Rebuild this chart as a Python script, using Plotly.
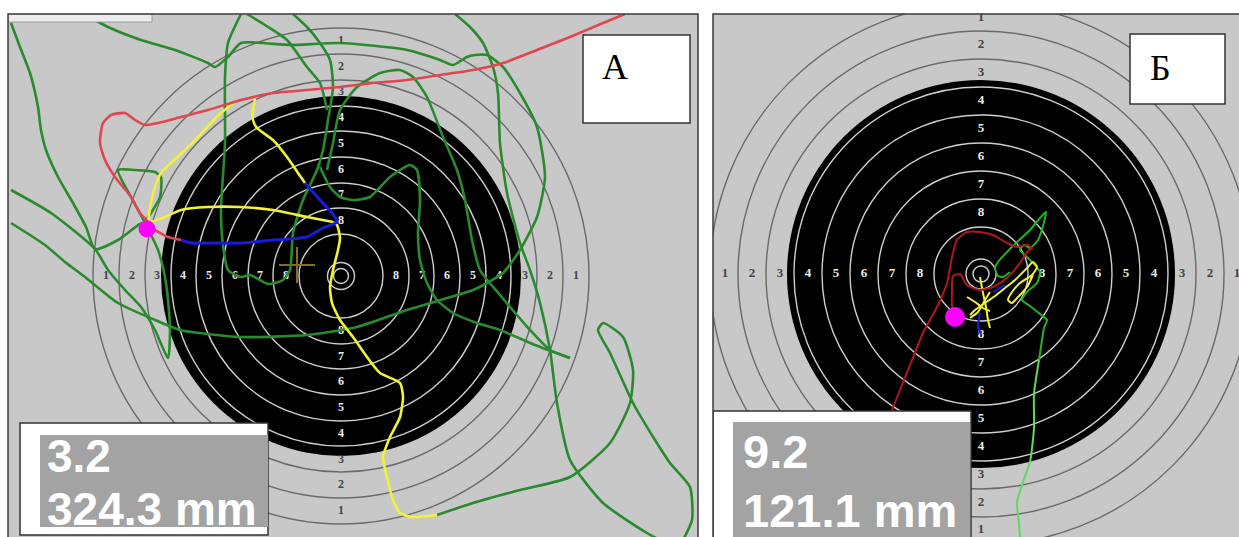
import plotly.graph_objects as go

# ---------------------------------------------------------------
# Target geometry (units: offset from target centre, y pointing up)
# ---------------------------------------------------------------
A_RING_R = [7.5, 13.5, 42, 68, 93, 119, 145, 170, 196, 222, 248]
A_BLACK_R = 180
A_LABEL_R = [235, 209, 184, 158, 132, 106, 81, 55]      # rings 1..8

B_RING_R = [8, 15, 47, 75, 103, 131, 159, 187, 215, 243, 271]
B_BLACK_R = 194
B_LABEL_R = [256, 229, 201, 173, 145, 117, 89, 61]      # rings 1..8

RING_NUMBERS = ["1", "2", "3", "4", "5", "6", "7", "8"]

# ---------------------------------------------------------------
# Aiming trace, panel A
# ---------------------------------------------------------------
A_GREEN = [
    [(-330, 253), (-321, 229), (-311, 203), (-303, 169), (-300, 146), (-295, 126),
     (-283, 99), (-268, 73), (-255, 49), (-246, 27), (-223, 36), (-201, 52), (-193, 54)],
    [(-330, 86), (-290, 63), (-246, 27), (-233, 6), (-216, -14), (-200, -31), (-186, -54),
     (-173, -82), (-171, -54), (-173, -24), (-176, -1), (-183, 26), (-196, 53), (-210, 79),
     (-223, 106), (-206, 106), (-186, 104), (-180, 99), (-181, 79), (-190, 63), (-196, 54)],
    [(-330, 53), (-296, 31), (-276, 14), (-256, -1), (-223, -27), (-186, -44), (-161, -54),
     (-100, -61), (-34, -59), (16, -51), (66, -34), (132, -14), (146, -7), (162, 3),
     (179, 26), (196, 59), (204, 99), (196, 149), (179, 183), (162, 209), (146, 221),
     (134, 221), (126, 219), (112, 211), (99, 216), (66, 226), (-1, 233), (-51, 231),
     (-100, 233), (-113, 219), (-126, 209), (-133, 213), (-166, 226), (-200, 236),
     (-233, 249), (-246, 256)],
    [(114, 262), (129, 249), (142, 233), (152, 209), (157, 183), (159, 133), (166, 83),
     (179, 33), (189, 6), (199, -27), (209, -74), (216, -127), (229, -184), (262, -227),
     (306, -257), (319, -264)],
    [(-100, 262), (-113, 233), (-116, 199), (-116, 133), (-120, 66), (-118, 31), (-113, 6),
     (-100, -1), (-91, 1), (-73, -8), (-58, -4), (-51, 6), (-48, 43), (-38, 76), (-24, 106),
     (-18, 126), (-13, 156), (-8, 189), (-11, 216), (-21, 233), (-34, 249), (-48, 262)],
    [(-94, 262), (-76, 251), (-54, 236), (-34, 209), (-21, 193), (-14, 166)],
    [(-21, 109), (-11, 89), (-1, 79), (12, 76), (29, 79), (49, 99), (69, 111), (76, 106),
     (79, 76), (77, 43), (79, 16), (86, -7), (96, -24), (112, -37), (136, -47), (159, -54),
     (194, -69), (229, -82)],
    [(-14, 106), (-8, 133), (-1, 166), (16, 189), (39, 203), (59, 206), (72, 199), (86, 179),
     (102, 139), (116, 106), (124, 76), (131, 36), (139, 6), (159, -19), (189, -54),
     (209, -74), (229, -82)],
    [(96, -239), (132, -227), (179, -214), (229, -201), (269, -167), (289, -127), (292, -94),
     (282, -61), (262, -47), (257, -54), (269, -77), (292, -127), (314, -164), (329, -187),
     (349, -211), (351, -244), (342, -264)],
]

A_YELLOW = [
    [(96, -239), (72, -241), (59, -237), (52, -224), (46, -201), (42, -181), (49, -161),
     (59, -141), (62, -121), (59, -107), (39, -97), (26, -81), (12, -61), (-1, -44),
     (-9, -27), (-11, -11), (-8, 6), (-3, 26), (-1, 38), (-4, 51), (-8, 54)],
    [(-8, 54), (-34, 59), (-68, 66), (-101, 69), (-133, 69), (-160, 66), (-176, 59), (-190, 54)],
    [(-193, 54), (-190, 73), (-186, 89), (-180, 103), (-170, 113), (-156, 126), (-143, 139),
     (-130, 153), (-120, 163), (-110, 171), (-105, 175)],
    [(-86, 177), (-88, 166), (-88, 156), (-84, 148), (-68, 136), (-54, 119), (-43, 103), (-36, 93)],
]

A_BLUE = [
    [(-36, 93), (-21, 76), (-9, 63), (-4, 54), (-18, 48), (-34, 39), (-68, 36), (-100, 33),
     (-133, 33), (-150, 33), (-160, 36)],
]

A_RED = [
    [(-160, 36), (-173, 39), (-186, 46), (-193, 50)],
    [(-193, 54), (-201, 63), (-210, 79), (-226, 99), (-236, 116), (-241, 133), (-238, 153),
     (-230, 161), (-216, 163), (-206, 156), (-196, 151), (-183, 153), (-160, 159), (-133, 166),
     (-100, 176), (-68, 183), (-34, 186), (-1, 189), (32, 193), (66, 196), (99, 201),
     (132, 206), (162, 213), (196, 226), (229, 239), (262, 253), (284, 262)],
]

A_SHOT = (-194, 47)
A_AIM_MARK = (-44, 11)

# ---------------------------------------------------------------
# Aiming trace, panel Б
# ---------------------------------------------------------------
B_GREEN = [
    [(58, -86), (61, -66), (63, -54), (66, -46), (59, -40), (49, -32), (41, -26), (46, -18),
     (56, -9), (59, 2), (54, 9), (46, 17), (39, 24), (43, 29), (49, 26), (57, 34), (62, 48),
     (65, 62), (59, 56), (49, 44), (36, 32), (26, 22), (17, 12), (14, 6), (17, -2), (22, -3),
     (29, 2)],
]
B_GREEN_LIGHT = [
    [(39, -263), (38, -250), (36, -229), (43, -205), (49, -188), (53, -154), (53, -120),
     (58, -86)],
]

B_YELLOW = [
    [(-11, -41), (-6, -36), (4, -29), (14, -22), (24, -14), (34, -6), (46, 6), (52, 12),
     (56, 7), (51, -1), (39, -9), (31, -18), (27, -26), (31, -29), (37, -23), (46, -13), (52, -1)],
    [(-14, -23), (-6, -28), (2, -34), (9, -37)],
    [(-1, -3), (2, -19), (5, -33), (7, -46), (9, -54)],
    [(-11, -44), (-3, -38), (4, -26), (9, -18)],
]

B_BLUE = [
    [(-1, -39), (-3, -53), (0, -60)],
    [(12, -18), (24, -11)],
]

B_RED = [
    [(-26, -43), (-29, -31), (-29, -16), (-28, -2), (-21, 0), (-14, -11), (-1, -16), (14, -12),
     (27, -3), (39, 11), (47, 23), (51, 26), (46, 29), (36, 27), (26, 31), (12, 39), (-1, 42),
     (-14, 42), (-24, 34), (-29, 17), (-34, -9), (-44, -33), (-58, -59), (-69, -86),
     (-81, -116), (-91, -141)],
]

B_SHOT = (-26, -43)

# Result read-outs
A_RESULT = ["3.2", "324.3 mm"]
B_RESULT = ["9.2", "121.1 mm"]
PANEL_TITLES = ["А", "Б"]

# ---------------------------------------------------------------
GRAY_BG = "#c8c8c8"
GREEN_A = "#2a8a2e"
GREEN_B = "#1fb51f"
GREEN_B_LIGHT = "#5fd85f"
YELLOW = "#f2f238"
BLUE = "#1a1adc"
RED_A = "#e2454f"
RED_B = "#b0161e"
MAGENTA = "#ff00ff"

fig = go.Figure()


def add_paths(paths, color, width, xa, ya):
    for p in paths:
        fig.add_trace(go.Scatter(
            x=[q[0] for q in p], y=[q[1] for q in p], mode="lines",
            line=dict(color=color, width=width, shape="spline", smoothing=0.6),
            xaxis=xa, yaxis=ya, hoverinfo="skip"))


def add_target(ring_r, black_r, label_r, xref, yref, xa, ya, font_size):
    fig.add_shape(type="circle", xref=xref, yref=yref, x0=-black_r, x1=black_r,
                  y0=-black_r, y1=black_r, fillcolor="black", line=dict(width=0),
                  layer="below")
    for r in ring_r:
        inside = r < black_r
        fig.add_shape(type="circle", xref=xref, yref=yref, x0=-r, x1=r, y0=-r, y1=r,
                      line=dict(color="#cfcfcf" if inside else "#6a6a6a", width=1.4),
                      layer="below")
    # ring numbers: light ones on the black disc, dark ones on the gray field
    groups = {"#ededed": ([], [], []), "#444444": ([], [], [])}
    for num, r in zip(RING_NUMBERS, label_r):
        col = "#ededed" if r < black_r - 8 else "#444444"
        xs, ys, txt = groups[col]
        for dx, dy in [(-1, 0), (1, 0), (0, 1), (0, -1)]:
            xs.append(dx * r)
            ys.append(dy * r)
            txt.append(num)
    for col, (xs, ys, txt) in groups.items():
        fig.add_trace(go.Scatter(
            x=xs, y=ys, text=txt, mode="text", xaxis=xa, yaxis=ya, hoverinfo="skip",
            textfont=dict(family="Liberation Serif", size=font_size, color=col,
                          weight="bold")))


# --- panel A ---
add_target(A_RING_R, A_BLACK_R, A_LABEL_R, "x", "y", "x", "y", 12)
# aiming mark
cx, cy = A_AIM_MARK
fig.add_trace(go.Scatter(x=[cx - 18, cx + 18, None, cx, cx], y=[cy, cy, None, cy - 18, cy + 18],
                         mode="lines", line=dict(color="#8a6a2a", width=2),
                         xaxis="x", yaxis="y", hoverinfo="skip"))
add_paths(A_GREEN, GREEN_A, 2.6, "x", "y")
add_paths(A_YELLOW, YELLOW, 2.6, "x", "y")
add_paths(A_BLUE, BLUE, 3, "x", "y")
add_paths(A_RED, RED_A, 2.6, "x", "y")
fig.add_trace(go.Scatter(x=[A_SHOT[0]], y=[A_SHOT[1]], mode="markers",
                         marker=dict(color=MAGENTA, size=17, line=dict(width=0)),
                         xaxis="x", yaxis="y", hoverinfo="skip"))

# --- panel Б ---
add_target(B_RING_R, B_BLACK_R, B_LABEL_R, "x2", "y2", "x2", "y2", 13)
add_paths(B_GREEN, GREEN_B, 2, "x2", "y2")
add_paths(B_GREEN_LIGHT, GREEN_B_LIGHT, 2, "x2", "y2")
add_paths(B_YELLOW, YELLOW, 2, "x2", "y2")
add_paths(B_BLUE, BLUE, 2, "x2", "y2")
add_paths(B_RED, RED_B, 2, "x2", "y2")
fig.add_trace(go.Scatter(x=[B_SHOT[0]], y=[B_SHOT[1]], mode="markers",
                         marker=dict(color=MAGENTA, size=20, line=dict(width=0)),
                         xaxis="x2", yaxis="y2", hoverinfo="skip"))


# --- read-out boxes and panel titles ---
def box(xref, yref, x0, x1, y0, y1, fill, line_col=None, lw=0):
    fig.add_shape(type="rect", xref=xref, yref=yref, x0=x0, x1=x1, y0=y0, y1=y1,
                  fillcolor=fill, line=dict(color=line_col or fill, width=lw), layer="above")


def text(xref, yref, x, y, s, size, color, family, anchor="left", weight="normal"):
    fig.add_annotation(xref=xref, yref=yref, x=x, y=y, text=s, showarrow=False,
                       xanchor=anchor, yanchor="middle",
                       font=dict(family=family, size=size, color=color, weight=weight))


# panel A
box("x", "y", -333, -189, 254, 262, "#ececec", "#9a9a9a", 1)
box("x", "y", -321, -73, -259, -147, "white", "#333333", 1.5)
box("x", "y", -301, -73, -251, -159, "#a3a3a3")
text("x", "y", -296, -180, A_RESULT[0], 46, "white", "Liberation Sans", weight="bold")
text("x", "y", -296, -233, A_RESULT[1], 46, "white", "Liberation Sans", weight="bold")
box("x", "y", 242, 349, 153, 241, "white", "#333333", 1.5)
text("x", "y", 274, 209, PANEL_TITLES[0], 36, "black", "Liberation Serif", "center")

# panel Б
box("x2", "y2", -268, -10, -264, -137, "white", "#333333", 1.5)
box("x2", "y2", -248, -11, -264, -148, "#a3a3a3")
text("x2", "y2", -240, -177, B_RESULT[0], 47, "white", "Liberation Sans", weight="bold")
text("x2", "y2", -240, -236, B_RESULT[1], 47, "white", "Liberation Sans", weight="bold")
box("x2", "y2", 149, 244, 170, 240, "white", "#333333", 1.5)
text("x2", "y2", 179, 206, PANEL_TITLES[1], 36, "black", "Liberation Serif", "center")

# panel frames
for xr, yr, x1 in [("x domain", "y domain", 1), ("x2 domain", "y2 domain", 1.01)]:
    fig.add_shape(type="rect", xref=xr, yref=yr, x0=0, x1=x1, y0=-0.05, y1=1,
                  line=dict(color="#3a3a3a", width=1.5), fillcolor="rgba(0,0,0,0)",
                  layer="above")

W, H = 1239, 537
axis_off = dict(showgrid=False, zeroline=False, showticklabels=False, ticks="",
                showline=False, fixedrange=True)
fig.update_layout(
    width=W, height=H, margin=dict(l=0, r=0, t=0, b=0),
    paper_bgcolor="white", plot_bgcolor=GRAY_BG, showlegend=False,
    xaxis=dict(domain=[8 / W, 698 / W], range=[-333, 357], anchor="y", **axis_off),
    yaxis=dict(domain=[0, 523 / H], range=[-261, 262], anchor="x", **axis_off),
    xaxis2=dict(domain=[713 / W, 1], range=[-268, 258], anchor="y2", **axis_off),
    yaxis2=dict(domain=[0, 523 / H], range=[-263, 260], anchor="x2", **axis_off),
)

fig.write_html("out.html")
